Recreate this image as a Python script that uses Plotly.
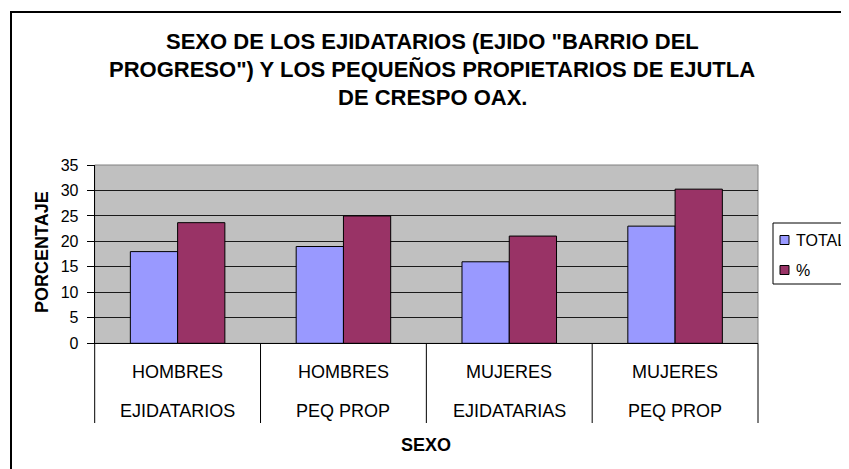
import plotly.graph_objects as go

# data
cat_top = ["HOMBRES", "HOMBRES", "MUJERES", "MUJERES"]
cat_bottom = ["EJIDATARIOS", "PEQ PROP", "EJIDATARIAS", "PEQ PROP"]
series = ["TOTAL", "%"]
total = [18, 19, 16, 23]
pct = [23.68, 25.0, 21.05, 30.26]
colors = ["#9999FF", "#993366"]
title_lines = ['SEXO DE LOS EJIDATARIOS (EJIDO "BARRIO DEL',
               'PROGRESO") Y LOS PEQUEÑOS PROPIETARIOS DE EJUTLA',
               'DE CRESPO OAX.']

W, H = 849, 469
OFF = 8                   # page body margin: screen px -> figure px
x0, x1 = 94.7, 758.0      # plot area, screen pixels
ytop, ybot = 165.0, 343.3

def px_x(v):
    return (v - OFF) / W

def px_y(v):
    return 1 - (v - OFF) / H

pos = list(range(len(cat_top)))

fig = go.Figure()
for name, vals, col in zip(series, [total, pct], colors):
    fig.add_bar(x=pos, y=vals, name=name,
                marker=dict(color=col, line=dict(color="black", width=1)))

fig.update_layout(
    width=W, height=H, autosize=False,
    margin=dict(l=0, r=0, t=0, b=0, autoexpand=False),
    paper_bgcolor="white", plot_bgcolor="#C0C0C0",
    font=dict(family="Arial, Liberation Sans", size=16, color="black"),
    barmode="group", bargap=0.43, bargroupgap=0,
    showlegend=False,
    xaxis=dict(domain=[px_x(x0), px_x(x1)], range=[-0.5, 3.5], showticklabels=False,
               showgrid=False, zeroline=False, showline=True, linecolor="black", linewidth=1,
               ticks=""),
    yaxis=dict(domain=[px_y(ybot), px_y(ytop)], range=[0, 35], dtick=5, showgrid=True,
               gridcolor="#1a1a1a", gridwidth=1, zeroline=False, showline=True,
               linecolor="black", linewidth=1, ticks="outside", ticklen=7, tickcolor="black",
               ticklabelstandoff=5, tickfont=dict(size=16)),
)

# plot area gray border (top/right)
fig.add_shape(type="rect", xref="paper", yref="paper", x0=px_x(x0), x1=px_x(x1),
              y0=px_y(ybot), y1=px_y(ytop), line=dict(color="#808080", width=1), layer="below")

# category dividers under the axis
step = (x1 - x0) / len(cat_top)
for i in range(len(cat_top) + 1):
    xx = x0 + i * step
    fig.add_shape(type="line", xref="paper", yref="paper", x0=px_x(xx), x1=px_x(xx),
                  y0=px_y(ybot), y1=px_y(423), line=dict(color="black", width=1))

for i in range(len(cat_top)):
    cx = x0 + (i + 0.5) * step
    fig.add_annotation(x=px_x(cx), y=px_y(371.5), xref="paper", yref="paper", text=cat_top[i],
                       showarrow=False, xanchor="center", yanchor="middle", font=dict(size=18))
    fig.add_annotation(x=px_x(cx), y=px_y(410.5), xref="paper", yref="paper", text=cat_bottom[i],
                       showarrow=False, xanchor="center", yanchor="middle", font=dict(size=18))

# title, one annotation per line to match the wide line spacing
for i, line in enumerate(title_lines):
    fig.add_annotation(x=px_x(432), y=px_y(41 + 28 * i), xref="paper", yref="paper",
                       text="<b>" + line + "</b>", showarrow=False, xanchor="center",
                       yanchor="middle", font=dict(size=22))

fig.add_annotation(x=px_x(426), y=px_y(445), xref="paper", yref="paper", text="<b>SEXO</b>",
                   showarrow=False, xanchor="center", yanchor="middle", font=dict(size=18))
fig.add_annotation(x=px_x(42), y=px_y(252), xref="paper", yref="paper", text="<b>PORCENTAJE</b>",
                   showarrow=False, textangle=-90, xanchor="center", yanchor="middle",
                   font=dict(size=18))

# legend box drawn like the spreadsheet legend
fig.add_shape(type="rect", xref="paper", yref="paper", x0=px_x(773), x1=1.05,
              y0=px_y(284), y1=px_y(223), line=dict(color="black", width=1),
              fillcolor="white")
for k, (name, col) in enumerate(zip(series, colors)):
    yc = 240 + 30 * k
    fig.add_shape(type="rect", xref="paper", yref="paper", x0=px_x(780), x1=px_x(789),
                  y0=px_y(yc + 4.5), y1=px_y(yc - 4.5), line=dict(color="black", width=1),
                  fillcolor=col)
    fig.add_annotation(x=px_x(794), y=px_y(yc + 0.5), xref="paper", yref="paper", text=name,
                       showarrow=False, xanchor="left", yanchor="middle", font=dict(size=16))

# outer chart border
fig.add_shape(type="rect", xref="paper", yref="paper", x0=px_x(11), x1=1.05,
              y0=-0.05, y1=px_y(12), line=dict(color="black", width=2))

fig.write_html("out.html")
